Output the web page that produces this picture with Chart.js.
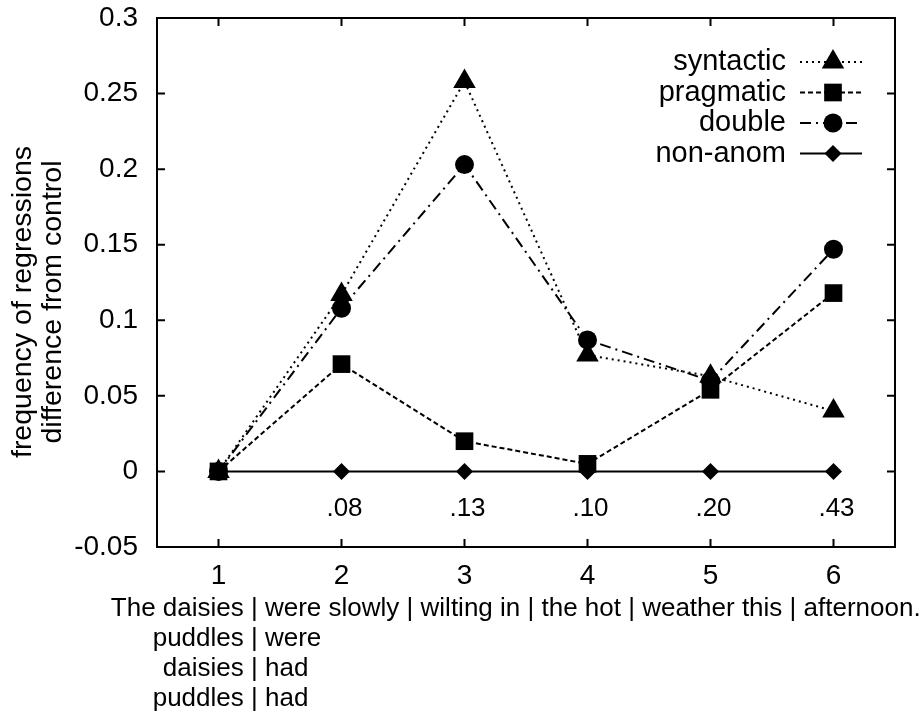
<!DOCTYPE html>
<html><head><meta charset="utf-8">
<script src="https://cdn.jsdelivr.net/npm/chart.js@4/dist/chart.umd.min.js"></script>
<style>html,body{margin:0;padding:0;background:#fff}#wrap{width:924px;height:716px;position:relative}</style>
</head><body><div id="wrap"><canvas id="c" width="924" height="716"></canvas></div>
<script>
// ---- data ----
const positions = [1, 2, 3, 4, 5, 6];
const syntactic = [0, 0.117, 0.258, 0.077, 0.063, 0.040];
const pragmatic = [0, 0.071, 0.020, 0.005, 0.054, 0.118];
const doubleAnom = [0, 0.108, 0.203, 0.087, 0.060, 0.147];
const nonAnom = [0, 0, 0, 0, 0, 0];
const seriesNames = ['syntactic', 'pragmatic', 'double', 'non-anom'];
const regionAnnotations = ['', '.08', '.13', '.10', '.20', '.43'];
const yTicks = [-0.05, 0, 0.05, 0.1, 0.15, 0.2, 0.25, 0.3];
const yTickLabels = ['-0.05', '0', '0.05', '0.1', '0.15', '0.2', '0.25', '0.3'];
const sentenceLines = [
  ['The daisies', 'were slowly | wilting in | the hot | weather this | afternoon.'],
  ['puddles', 'were'],
  ['daisies', 'had'],
  ['puddles', 'had']
];
const yTitle = ['frequency of regressions', 'difference from control'];

// ---- styles ----
const FONT = '"Liberation Sans", Arial, Helvetica, sans-serif';
const TICK_FS = 28, LEG_FS = 29, TITLE_FS = 28.5, ANN_FS = 26, SENT_FS = 26;
const toPts = arr => positions.map((p, i) => ({x: p, y: arr[i]}));

const styles = [
  {dash: [2, 4], point: 'triangle', r: 13},
  {dash: [5, 3], point: 'rect', r: 12.5},
  {dash: [11, 5, 2, 5], point: 'circle', r: 9.5},
  {dash: [], point: 'rectRot', r: 8.5}
];
const values = [syntactic, pragmatic, doubleAnom, nonAnom];

const datasets = values.map((v, i) => ({
  label: seriesNames[i],
  data: toPts(v),
  borderColor: '#000',
  backgroundColor: '#000',
  borderWidth: 2,
  borderDash: styles[i].dash,
  pointStyle: styles[i].point,
  pointRadius: styles[i].r,
  pointBorderWidth: 0,
  pointBackgroundColor: '#000',
  tension: 0,
  fill: false
}));

const frameTicks = {
  id: 'frameTicks',
  beforeDatasetsDraw(chart) {
    const {ctx, chartArea: a, scales: {x, y}} = chart;
    ctx.save();
    ctx.strokeStyle = '#000'; ctx.lineWidth = 2;
    ctx.strokeRect(a.left, a.top, a.right - a.left, a.bottom - a.top);
    const L = 8;
    ctx.beginPath();
    x.ticks.forEach(t => { const px = x.getPixelForValue(t.value);
      ctx.moveTo(px, a.bottom); ctx.lineTo(px, a.bottom - L);
      ctx.moveTo(px, a.top); ctx.lineTo(px, a.top + L); });
    y.ticks.forEach(t => { const py = y.getPixelForValue(t.value);
      ctx.moveTo(a.left, py); ctx.lineTo(a.left + L, py);
      ctx.moveTo(a.right, py); ctx.lineTo(a.right - L, py); });
    ctx.stroke();
    ctx.restore();
  }
};

const texts = {
  id: 'texts',
  afterDraw(chart) {
    const {ctx, scales: {x, y}} = chart;
    ctx.save();
    ctx.fillStyle = '#000';
    // region annotations
    ctx.font = ANN_FS + 'px ' + FONT;
    ctx.textAlign = 'center'; ctx.textBaseline = 'middle';
    regionAnnotations.forEach((t, i) => {
      if (t) ctx.fillText(t, x.getPixelForValue(positions[i]) + 3, y.getPixelForValue(-0.025));
    });
    // sentence lines, aligned on first bar
    ctx.font = SENT_FS + 'px ' + FONT;
    const barX = 251;
    sentenceLines.forEach((ln, i) => {
      const yy = 609 + i * 30;
      ctx.textAlign = 'right';
      ctx.fillText(ln[0] + ' ', barX, yy);
      ctx.textAlign = 'left';
      ctx.fillText('| ' + ln[1], barX, yy);
    });
    // y title
    ctx.font = TITLE_FS + 'px ' + FONT;
    ctx.save();
    ctx.translate(0, 302);
    ctx.rotate(-Math.PI / 2);
    ctx.textAlign = 'center';
    ctx.fillText(yTitle[0], 0, 23);
    ctx.fillText(yTitle[1], 0, 53);
    ctx.restore();
    // legend
    ctx.font = LEG_FS + 'px ' + FONT;
    chart.data.datasets.forEach((ds, i) => {
      const yy = 62 + i * 30.5;
      ctx.textAlign = 'right';
      ctx.fillText(ds.label, 786, yy);
      ctx.save();
      ctx.strokeStyle = '#000'; ctx.lineWidth = 2;
      ctx.setLineDash(ds.borderDash);
      ctx.beginPath(); ctx.moveTo(800, yy); ctx.lineTo(862, yy); ctx.stroke();
      ctx.setLineDash([]);
      ctx.fillStyle = '#000';
      Chart.helpers.drawPoint(ctx, {pointStyle: ds.pointStyle, radius: ds.pointRadius, rotation: 0, borderWidth: 0}, 833, yy);
      ctx.restore();
    });
    ctx.restore();
  }
};

new Chart(document.getElementById('c'), {
  type: 'line',
  data: {datasets},
  options: {
    responsive: false, animation: false, devicePixelRatio: 1,
    layout: {padding: {left: 0, top: 18, right: 29, bottom: 0}},
    plugins: {legend: {display: false}, tooltip: {enabled: false}},
    scales: {
      x: {
        type: 'linear', min: 0.5, max: 6.5,
        afterBuildTicks: s => { s.ticks = positions.map(v => ({value: v})); },
        afterFit: s => { s.height = 169; s.paddingLeft = 0; s.paddingRight = 0; },
        grid: {display: false, drawTicks: false}, border: {display: false},
        ticks: {color: '#000', font: {family: FONT, size: TICK_FS}, padding: 12, maxRotation: 0,
          callback: v => String(v)}
      },
      y: {
        type: 'linear', min: -0.05, max: 0.3,
        afterBuildTicks: s => { s.ticks = yTicks.map(v => ({value: v})); },
        afterFit: s => { s.width = 157; s.paddingTop = 0; s.paddingBottom = 0; },
        grid: {display: false, drawTicks: false}, border: {display: false},
        ticks: {color: '#000', font: {family: FONT, size: TICK_FS}, padding: 19,
          callback: (v) => { const k = yTicks.findIndex(t => Math.abs(t - v) < 1e-9); return k >= 0 ? yTickLabels[k] : ''; }}
      }
    }
  },
  plugins: [frameTicks, texts]
});
</script></body></html>
